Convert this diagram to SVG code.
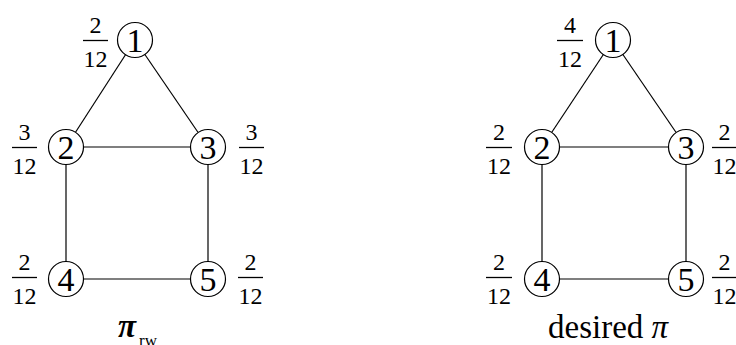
<svg xmlns="http://www.w3.org/2000/svg" width="736" height="345" viewBox="0 0 736 345">
<style>
.edge{stroke:#000;stroke-width:1.2;fill:none}
.node circle{fill:#fff;stroke:#000;stroke-width:1.2}
.bar{stroke:#000;stroke-width:1.3}
.nl{font-family:"Liberation Serif",serif;font-size:34px;text-anchor:middle;fill:#000}
.fr{font-family:"Liberation Serif",serif;font-size:24px;text-anchor:middle;fill:#000}
.cap{font-family:"Liberation Serif",serif;fill:#000}
</style>
<rect width="736" height="345" fill="#fff"/>
<g id="connectors">
<line class="edge" x1="135" y1="40" x2="66" y2="147"/>
<line class="edge" x1="135" y1="40" x2="208" y2="147"/>
<line class="edge" x1="66" y1="147" x2="208" y2="147"/>
<line class="edge" x1="66" y1="147" x2="66" y2="279"/>
<line class="edge" x1="208" y1="147" x2="208" y2="279"/>
<line class="edge" x1="66" y1="279" x2="208" y2="279"/>
<line class="edge" x1="613" y1="40" x2="542" y2="147"/>
<line class="edge" x1="613" y1="40" x2="686" y2="147"/>
<line class="edge" x1="542" y1="147" x2="686" y2="147"/>
<line class="edge" x1="542" y1="147" x2="542" y2="279"/>
<line class="edge" x1="686" y1="147" x2="686" y2="279"/>
<line class="edge" x1="542" y1="279" x2="686" y2="279"/>
</g>
<g id="L1" class="node"><circle cx="135" cy="40" r="17.5"/><text class="nl" x="135" y="51.5">1</text>
<line class="bar" x1="83" y1="40.5" x2="108" y2="40.5"/><text class="fr" x="95.5" y="32.5">2</text><text class="fr" x="95.5" y="67">12</text></g>
<g id="L2" class="node"><circle cx="66" cy="147" r="17.5"/><text class="nl" x="66" y="158.5">2</text>
<line class="bar" x1="12" y1="147.5" x2="37" y2="147.5"/><text class="fr" x="24.5" y="139.5">3</text><text class="fr" x="24.5" y="174">12</text></g>
<g id="L3" class="node"><circle cx="208" cy="147" r="17.5"/><text class="nl" x="208" y="158.5">3</text>
<line class="bar" x1="239" y1="147.5" x2="264" y2="147.5"/><text class="fr" x="251.5" y="139.5">3</text><text class="fr" x="251.5" y="174">12</text></g>
<g id="L4" class="node"><circle cx="66" cy="279" r="17.5"/><text class="nl" x="66" y="290.5">4</text>
<line class="bar" x1="12" y1="277.5" x2="37" y2="277.5"/><text class="fr" x="24.5" y="269.5">2</text><text class="fr" x="24.5" y="304">12</text></g>
<g id="L5" class="node"><circle cx="208" cy="279" r="17.5"/><text class="nl" x="208" y="290.5">5</text>
<line class="bar" x1="238" y1="277.5" x2="263" y2="277.5"/><text class="fr" x="250.5" y="269.5">2</text><text class="fr" x="250.5" y="304">12</text></g>
<g id="R1" class="node"><circle cx="613" cy="40" r="17.5"/><text class="nl" x="613" y="51.5">1</text>
<line class="bar" x1="557" y1="40.5" x2="583" y2="40.5"/><text class="fr" x="570" y="32.5">4</text><text class="fr" x="570" y="67">12</text></g>
<g id="R2" class="node"><circle cx="542" cy="147" r="17.5"/><text class="nl" x="542" y="158.5">2</text>
<line class="bar" x1="486" y1="147.5" x2="512" y2="147.5"/><text class="fr" x="499" y="139.5">2</text><text class="fr" x="499" y="174">12</text></g>
<g id="R3" class="node"><circle cx="686" cy="147" r="17.5"/><text class="nl" x="686" y="158.5">3</text>
<line class="bar" x1="712" y1="147.5" x2="737" y2="147.5"/><text class="fr" x="724.5" y="139.5">2</text><text class="fr" x="724.5" y="174">12</text></g>
<g id="R4" class="node"><circle cx="542" cy="279" r="17.5"/><text class="nl" x="542" y="290.5">4</text>
<line class="bar" x1="486" y1="277.5" x2="512" y2="277.5"/><text class="fr" x="499" y="269.5">2</text><text class="fr" x="499" y="304">12</text></g>
<g id="R5" class="node"><circle cx="686" cy="279" r="17.5"/><text class="nl" x="686" y="290.5">5</text>
<line class="bar" x1="712" y1="277.5" x2="737" y2="277.5"/><text class="fr" x="724.5" y="269.5">2</text><text class="fr" x="724.5" y="304">12</text></g>
<g id="cap-left"><text class="cap" x="118" y="337" font-size="33" font-style="italic" font-weight="bold">π</text><text class="cap" x="139" y="345.5" font-size="17">rw</text></g>
<g id="cap-right"><text class="cap" x="548" y="338" font-size="33">desired <tspan font-style="italic">π</tspan></text></g>
</svg>
